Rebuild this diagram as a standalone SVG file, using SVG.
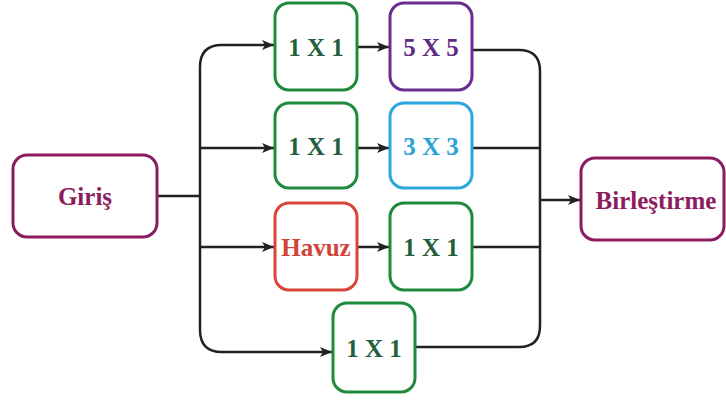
<svg xmlns="http://www.w3.org/2000/svg" width="726" height="403" viewBox="0 0 726 403">
<style>
.box{fill:#fff;stroke-width:3}
.t{font-family:"Liberation Serif","Times New Roman",serif;font-weight:bold;font-size:25px;text-anchor:middle}
.mag{stroke:#8c1c60}.magt{fill:#8c1c60}
.grn{stroke:#1f8a3e}.grnt{fill:#245f3c}
.pur{stroke:#6b2d90}.purt{fill:#5e2a82}
.blu{stroke:#2aa7dc}.blut{fill:#2aa2d6}
.red{stroke:#d8463b}.redt{fill:#d2443a}
.ln{fill:none;stroke:#222;stroke-width:2.5}
</style>
<defs>
<marker id="ah" viewBox="0 0 12 10" refX="12" refY="5" markerWidth="12" markerHeight="10" markerUnits="userSpaceOnUse" orient="auto">
<path d="M0,0 L12,5 L0,10 L3,5 Z" fill="#222"/>
</marker>
</defs>
<rect width="726" height="403" fill="#fff"/>
<g id="connectors">
<path class="ln" d="M157,196 H200"/>
<path class="ln" d="M200,196 V67 Q200,45 222,45 H274" marker-end="url(#ah)"/>
<path class="ln" d="M200,148 H274" marker-end="url(#ah)"/>
<path class="ln" d="M200,247 H274" marker-end="url(#ah)"/>
<path class="ln" d="M200,196 V330 Q200,352 222,352 H332" marker-end="url(#ah)"/>
<path class="ln" d="M357,47 H389" marker-end="url(#ah)"/>
<path class="ln" d="M357,148 H389" marker-end="url(#ah)"/>
<path class="ln" d="M357,247 H389" marker-end="url(#ah)"/>
<path class="ln" d="M472,50 H519 Q540,50 540,71 V326 Q540,347 519,347 H415"/>
<path class="ln" d="M472,148 H540"/>
<path class="ln" d="M472,247 H540"/>
<path class="ln" d="M541,200 H580" marker-end="url(#ah)"/>
</g>
<g id="giris"><rect class="box mag" x="13" y="155" width="144" height="82" rx="14"/><text class="t magt" x="85" y="205">Giriş</text></g>
<g id="c1a"><rect class="box grn" x="275" y="3" width="82" height="87" rx="14"/><text class="t grnt" x="316" y="56">1 X 1</text></g>
<g id="c5"><rect class="box pur" x="390" y="3" width="82" height="87" rx="14"/><text class="t purt" x="431" y="56">5 X 5</text></g>
<g id="c1b"><rect class="box grn" x="275" y="103" width="82" height="85" rx="14"/><text class="t grnt" x="316" y="155">1 X 1</text></g>
<g id="c3"><rect class="box blu" x="390" y="103" width="82" height="85" rx="14"/><text class="t blut" x="431" y="155">3 X 3</text></g>
<g id="havuz"><rect class="box red" x="275" y="203" width="82" height="87" rx="14"/><text class="t redt" x="316" y="256">Havuz</text></g>
<g id="c1c"><rect class="box grn" x="390" y="203" width="82" height="87" rx="14"/><text class="t grnt" x="431" y="256">1 X 1</text></g>
<g id="c1d"><rect class="box grn" x="333" y="303" width="82" height="89" rx="14"/><text class="t grnt" x="374" y="357">1 X 1</text></g>
<g id="birlestirme"><rect class="box mag" x="581" y="158" width="143" height="82" rx="14"/><text class="t magt" x="656" y="209">Birleştirme</text></g>
</svg>
